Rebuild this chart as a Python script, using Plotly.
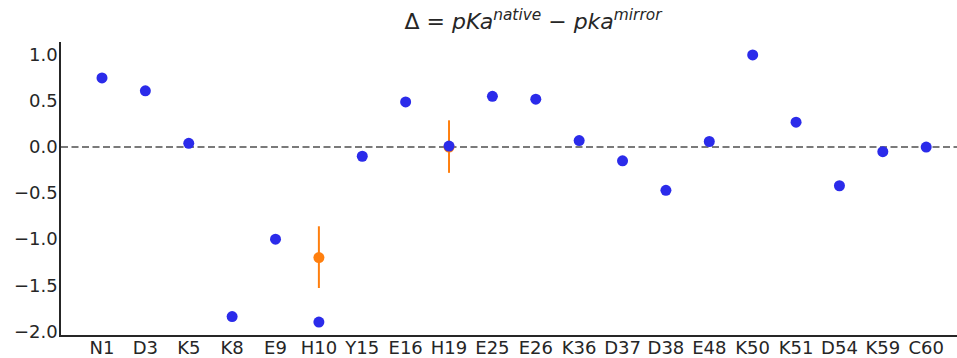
import plotly.graph_objects as go

residues = ["N1", "D3", "K5", "K8", "E9", "H10", "Y15", "E16", "H19", "E25", "E26",
            "K36", "D37", "D38", "E48", "K50", "K51", "D54", "K59", "C60"]
delta = [0.75, 0.61, 0.04, -1.84, -1.0, -1.90, -0.10, 0.49, 0.01, 0.55, 0.52,
         0.07, -0.15, -0.47, 0.06, 1.0, 0.27, -0.42, -0.05, 0.0]

exp_residues = ["H10", "H19"]
exp_delta = [-1.20, 0.0]
exp_err_plus = [0.34, 0.29]
exp_err_minus = [0.33, 0.28]

idx = {r: i for i, r in enumerate(residues)}

fig = go.Figure()
fig.add_trace(go.Scatter(
    x=[idx[r] for r in exp_residues], y=exp_delta, mode="markers",
    marker=dict(color="#ff7f0e", size=11),
    error_y=dict(type="data", symmetric=False, array=exp_err_plus,
                 arrayminus=exp_err_minus, color="#ff7f0e", thickness=2, width=0),
    showlegend=False))
fig.add_trace(go.Scatter(
    x=list(range(len(residues))), y=delta, mode="markers",
    marker=dict(color="#2b2bea", size=11), showlegend=False))

fig.add_shape(type="line", xref="paper", x0=0, x1=1, yref="y", y0=0, y1=0,
              line=dict(color="#7a7a7a", width=2, dash="7px,3.5px"), layer="below")

fig.update_layout(
    width=957, height=358,
    margin=dict(l=61, r=0, t=42, b=23, autoexpand=False),
    plot_bgcolor="white", paper_bgcolor="white",
    font=dict(family="DejaVu Sans", size=18, color="#262626"),
    title=dict(text="Δ = <i>pKa</i><sup><i>native</i></sup> − <i>pka</i><sup><i>mirror</i></sup>",
               x=0.557, xanchor="center", y=0.962, yanchor="top",
               font=dict(size=22, family="DejaVu Sans")),
    xaxis=dict(tickmode="array", tickvals=list(range(len(residues))), ticktext=residues,
               range=[-0.945, 19.71], showgrid=False, zeroline=False, automargin=False,
               showline=True, linecolor="#262626", linewidth=1.5, ticks="",
               ticklabelstandoff=-4),
    yaxis=dict(range=[-2.04, 1.14], tickvals=[-2, -1.5, -1, -0.5, 0, 0.5, 1],
               ticktext=["−2.0", "−1.5", "−1.0", "−0.5", "0.0", "0.5", "1.0"],
               showgrid=False, zeroline=False, showline=True, automargin=False,
               linecolor="#262626", linewidth=1.5, ticks="", ticklabelstandoff=-2),
)
fig.write_html("out.html", config={"displayModeBar": False},
               post_script="document.body.style.margin='0';document.body.style.overflow='hidden';")
